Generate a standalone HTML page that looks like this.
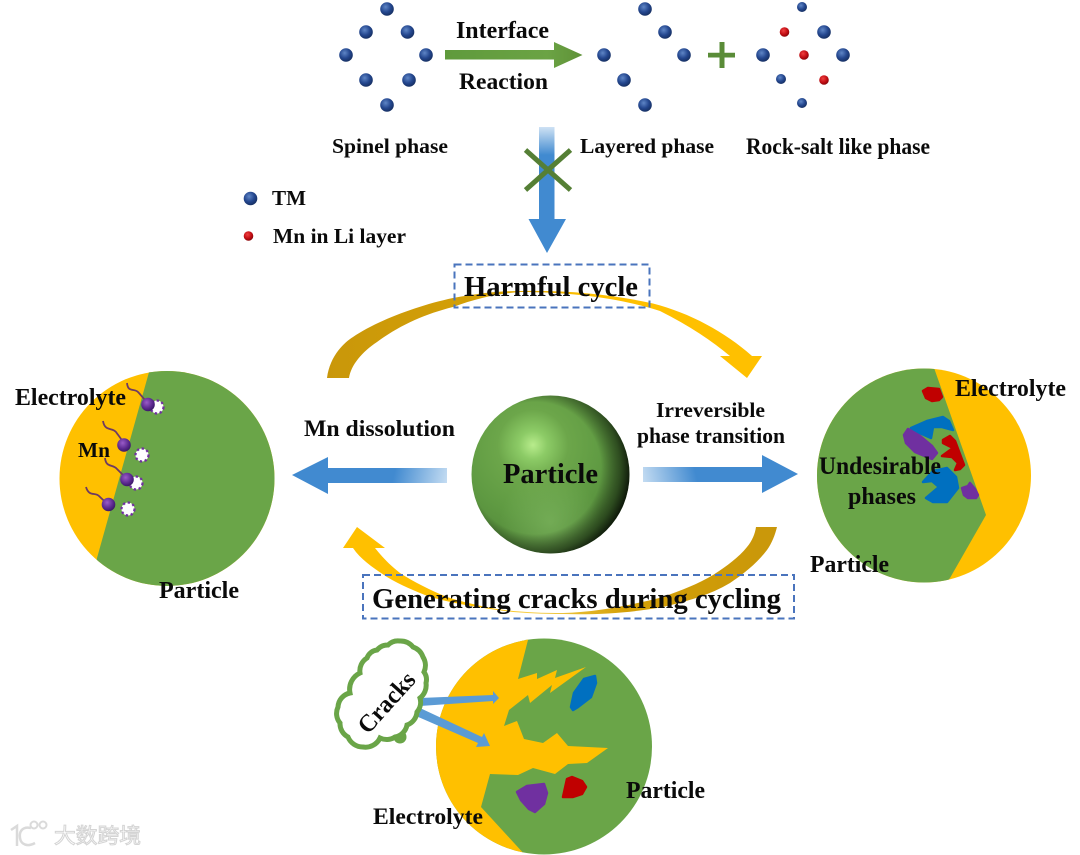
<!DOCTYPE html>
<html lang="en">
<head>
<meta charset="utf-8">
<title>Harmful cycle diagram</title>
<style>
html,body{margin:0;padding:0;background:#fff;}
svg{display:block;filter:blur(0.35px);}
text{font-family:"Liberation Serif","Noto Serif CJK SC",serif;font-weight:bold;fill:#0a0a0a;}
.blob{stroke-width:2.5;stroke-linejoin:round;}
</style>
</head>
<body>
<svg xmlns="http://www.w3.org/2000/svg" width="1080" height="855" viewBox="0 0 1080 855">
<defs>
<radialGradient id="b" cx="0.4" cy="0.35" r="0.7"><stop offset="0" stop-color="#5f86c6"/><stop offset="0.55" stop-color="#24478f"/><stop offset="1" stop-color="#142c5c"/></radialGradient>
<radialGradient id="r" cx="0.4" cy="0.35" r="0.7"><stop offset="0" stop-color="#f04040"/><stop offset="0.6" stop-color="#c00c12"/><stop offset="1" stop-color="#7c0508"/></radialGradient>
<radialGradient id="p" cx="0.4" cy="0.35" r="0.7"><stop offset="0" stop-color="#9a5cc8"/><stop offset="0.6" stop-color="#5c2a90"/><stop offset="1" stop-color="#351560"/></radialGradient>
<radialGradient id="sph" gradientUnits="userSpaceOnUse" cx="533" cy="445" r="118">
<stop offset="0" stop-color="#b8ec8c"/><stop offset="0.12" stop-color="#8ccb66"/><stop offset="0.3" stop-color="#6ca64a"/><stop offset="0.6" stop-color="#5f9a42"/><stop offset="1" stop-color="#4e8236"/>
</radialGradient>
<radialGradient id="sphd" gradientUnits="userSpaceOnUse" cx="535" cy="468" r="100">
<stop offset="0.66" stop-color="#000" stop-opacity="0"/><stop offset="0.85" stop-color="#0c1608" stop-opacity="0.55"/><stop offset="1" stop-color="#000" stop-opacity="1"/>
</radialGradient>
<radialGradient id="sphb" gradientUnits="userSpaceOnUse" cx="550" cy="522" r="50">
<stop offset="0" stop-color="#7cb45e" stop-opacity="0.7"/><stop offset="1" stop-color="#7cb45e" stop-opacity="0"/>
</radialGradient>
<linearGradient id="gar2" gradientUnits="userSpaceOnUse" x1="445" y1="55" x2="582" y2="55"><stop offset="0" stop-color="#5f9a3c"/><stop offset="0.75" stop-color="#6ba344"/><stop offset="1" stop-color="#5f9238"/></linearGradient>
<linearGradient id="bdown" gradientUnits="userSpaceOnUse" x1="547" y1="127" x2="547" y2="155"><stop offset="0" stop-color="#cfe2f4"/><stop offset="1" stop-color="#418ad0"/></linearGradient>
<linearGradient id="bleft" gradientUnits="userSpaceOnUse" x1="395" y1="470" x2="447" y2="482"><stop offset="0" stop-color="#418ad0"/><stop offset="1" stop-color="#c4dcf2"/></linearGradient>
<linearGradient id="bright" gradientUnits="userSpaceOnUse" x1="643" y1="482" x2="695" y2="470"><stop offset="0" stop-color="#c4dcf2"/><stop offset="1" stop-color="#418ad0"/></linearGradient>
<linearGradient id="atop" gradientUnits="userSpaceOnUse" x1="327" y1="330" x2="762" y2="330"><stop offset="0" stop-color="#c9970a"/><stop offset="0.35" stop-color="#d4a006"/><stop offset="0.6" stop-color="#ffc000"/><stop offset="1" stop-color="#ffc000"/></linearGradient>
<linearGradient id="abot" gradientUnits="userSpaceOnUse" x1="777" y1="570" x2="343" y2="570"><stop offset="0" stop-color="#c9970a"/><stop offset="0.35" stop-color="#d4a006"/><stop offset="0.55" stop-color="#f5d050"/><stop offset="0.7" stop-color="#ffc000"/><stop offset="1" stop-color="#ffc000"/></linearGradient>
<clipPath id="c1"><circle cx="167" cy="478.5" r="107.5"/></clipPath>
<clipPath id="c2"><circle cx="924" cy="475.5" r="107"/></clipPath>
<clipPath id="c3"><circle cx="544" cy="746.5" r="108"/></clipPath>
</defs>

<rect width="1080" height="855" fill="#fff"/>

<!-- atoms -->
<g fill="url(#b)">
<circle cx="387" cy="9" r="6.8"/><circle cx="366" cy="32" r="6.8"/><circle cx="407.5" cy="32" r="6.8"/><circle cx="346" cy="55" r="6.8"/><circle cx="426" cy="55" r="6.8"/><circle cx="366" cy="80" r="6.8"/><circle cx="409" cy="80" r="6.8"/><circle cx="387" cy="105" r="6.8"/>
<circle cx="645" cy="9" r="6.8"/><circle cx="665" cy="32" r="6.8"/><circle cx="604" cy="55" r="6.8"/><circle cx="684" cy="55" r="6.8"/><circle cx="624" cy="80" r="6.8"/><circle cx="645" cy="105" r="6.8"/>
<circle cx="802" cy="7" r="5"/><circle cx="824" cy="32" r="6.8"/><circle cx="763" cy="55" r="6.8"/><circle cx="843" cy="55" r="6.8"/><circle cx="781" cy="79" r="5"/><circle cx="802" cy="103" r="5"/>
<circle cx="250.5" cy="198.5" r="6.8"/>
</g>
<g fill="url(#r)">
<circle cx="784.5" cy="32" r="4.8"/><circle cx="804" cy="55" r="4.8"/><circle cx="824" cy="80" r="4.8"/>
<circle cx="248.5" cy="236" r="4.8"/>
</g>

<!-- green arrow and plus -->
<path d="M445,50 H554 V42 L582.5,55 L554,68 V59.5 H445 Z" fill="url(#gar2)"/>
<path d="M708,52.8 H719.5 V42 H724.5 V52.8 H735 V57.5 H724.5 V68 H719.5 V57.5 H708 Z" fill="#5a8c38"/>

<!-- blue down arrow with X -->
<path d="M539,127 H554.5 V219 H566 L547,253 L528.5,219 H539 Z" fill="url(#bdown)"/>
<path d="M525.5,150 L570.5,190 M570.5,150 L525.5,190" stroke="#557f35" stroke-width="5" fill="none"/>

<!-- top text -->
<text x="456" y="38" font-size="24" textLength="93" lengthAdjust="spacingAndGlyphs">Interface</text>
<text x="459" y="89" font-size="23.6" textLength="89" lengthAdjust="spacingAndGlyphs">Reaction</text>
<text x="332" y="153" font-size="21.6" textLength="116" lengthAdjust="spacingAndGlyphs">Spinel phase</text>
<text x="580" y="153" font-size="21.4" textLength="134" lengthAdjust="spacingAndGlyphs">Layered phase</text>
<text x="746" y="154" font-size="22.8" textLength="184" lengthAdjust="spacingAndGlyphs">Rock-salt like phase</text>
<text x="272" y="205" font-size="21" textLength="34" lengthAdjust="spacingAndGlyphs">TM</text>
<text x="273" y="243" font-size="21.5" textLength="133" lengthAdjust="spacingAndGlyphs">Mn in Li layer</text>

<!-- cycle arcs -->
<path d="M327,378 C330,355 345,342 353,337 C375,322 415,306 453,298 C480,293 500,291 520,291 C570,290 615,295 653,303.5 C690,313 725,332 752,356 L762,356 L747,378 L720,356 L730,356 C712,341 690,326 660,311 C620,298 570,292 520,292 C495,294 475,299 453,307 C425,314 400,325 377,342 C362,352 351,365 349,378 Z" fill="url(#atop)"/>
<path d="M777,527 C775,535 772,543 767,550 C757,563 745,573 730,583 C710,595 688,601 663,607 C630,613 595,615 563,614 C540,614 518,613 497,610 C475,607 452,603 430,597 C415,591 400,585 387,577 C375,569 361,560 353,548 L343,548 L357,527 L385,548 L375,548 C382,557 390,565 400,573 C414,582 430,590 447,597 C463,602 480,606 497,609 C518,612 540,613 563,613 C597,612 632,605 663,597 C682,590 698,584 713,575 C727,566 739,557 747,547 C752,541 755,534 756,527 Z" fill="url(#abot)"/>

<rect x="454.5" y="264.5" width="195" height="43" fill="none" stroke="#4a74bd" stroke-width="2" stroke-dasharray="7 4"/>
<rect x="363" y="575" width="431" height="43.5" fill="none" stroke="#4a74bd" stroke-width="2" stroke-dasharray="7 4"/>
<text x="464" y="296" font-size="28.6" textLength="174" lengthAdjust="spacingAndGlyphs">Harmful cycle</text>
<text x="372" y="608" font-size="28.7" textLength="409" lengthAdjust="spacingAndGlyphs">Generating cracks during cycling</text>

<!-- sphere -->
<circle cx="550.5" cy="474.5" r="79" fill="url(#sph)"/>
<circle cx="550.5" cy="474.5" r="79" fill="url(#sphb)"/>
<circle cx="550.5" cy="474.5" r="79" fill="url(#sphd)"/>
<text x="503" y="483" font-size="28.5" textLength="95" lengthAdjust="spacingAndGlyphs">Particle</text>

<!-- horizontal arrows -->
<path d="M292,475 L328,457 V468 H447 V483 H328 V494 Z" fill="url(#bleft)"/>
<path d="M643,467 H762 V455 L798,474 L762,493 V482 H643 Z" fill="url(#bright)"/>
<text x="304" y="436" font-size="23.7" textLength="151" lengthAdjust="spacingAndGlyphs">Mn dissolution</text>
<text x="656" y="417" font-size="21.6" textLength="109" lengthAdjust="spacingAndGlyphs">Irreversible</text>
<text x="637" y="443" font-size="22.2" textLength="148" lengthAdjust="spacingAndGlyphs">phase transition</text>

<!-- left circle -->
<circle cx="167" cy="478.5" r="107.5" fill="#ffc000"/>
<path clip-path="url(#c1)" d="M151,365 L97,558 L90,600 H290 V365 Z" fill="#6aa548"/>
<g fill="#fff" stroke="#7030a0" stroke-width="2.2" stroke-dasharray="2.5 2.5">
<circle cx="157" cy="407" r="6.5"/><circle cx="142" cy="455" r="6.5"/><circle cx="136" cy="483" r="6.5"/><circle cx="128" cy="509" r="6.5"/>
</g>
<g fill="none" stroke="#6e3a62" stroke-width="1.8">
<path d="M127,383 C128,393 134,388 138,392 C141,395 142,397 146,401"/>
<path d="M103,421 C105,432 112,427 116,432 C118,435 120,437 123,442"/>
<path d="M105,458 C106,468 113,464 117,469 C120,472 122,474 125,477"/>
<path d="M86,487 C89,497 95,492 99,496 C102,499 104,501 107,503"/>
</g>
<g fill="url(#p)">
<circle cx="148" cy="404.5" r="6.8"/><circle cx="124" cy="445" r="6.8"/><circle cx="127" cy="479.5" r="6.8"/><circle cx="108.5" cy="504.5" r="6.8"/>
</g>
<text x="15" y="405" font-size="23.8" textLength="111" lengthAdjust="spacingAndGlyphs">Electrolyte</text>
<text x="78" y="457" font-size="21.4" textLength="32" lengthAdjust="spacingAndGlyphs">Mn</text>
<text x="159" y="598" font-size="24" textLength="80" lengthAdjust="spacingAndGlyphs">Particle</text>

<!-- right circle -->
<circle cx="924" cy="475.5" r="107" fill="#ffc000"/>
<path clip-path="url(#c2)" d="M933,365 L986,515 L950,578 L940,590 H810 V365 Z" fill="#6aa548"/>
<polygon class="blob" fill="#c00000" stroke="#c00000" points="923,391 928,388 939,389 942,397 939,400 932,401 926,398"/>
<polygon class="blob" fill="#0070c0" stroke="#0070c0" points="911,428 927,421 943,417 949,421 953,430 942,427 933,427 931,438 915,431"/>
<polygon class="blob" fill="#7030a0" stroke="#7030a0" points="908,429 920,436 932,446 937,453 932,459 915,452 906,443 904,435"/>
<polygon class="blob" fill="#c00000" stroke="#c00000" points="943,440 950,436 955,441 964,465 960,469 955,470 958,463 952,457 942,456 953,448 943,443"/>
<polygon class="blob" fill="#0070c0" stroke="#0070c0" points="923,482 933,471 947,468 956,477 958,488 947,502 933,502 926,498 939,487 932,481"/>
<polygon class="blob" fill="#7030a0" stroke="#7030a0" points="962,488 968,486 970,483 975,489 978,495 976,498 968,498 964,495"/>
<text x="955" y="396" font-size="23.8" textLength="111" lengthAdjust="spacingAndGlyphs">Electrolyte</text>
<text x="819" y="474" font-size="25.5" textLength="122" lengthAdjust="spacingAndGlyphs">Undesirable</text>
<text x="848" y="504" font-size="24" textLength="68" lengthAdjust="spacingAndGlyphs">phases</text>
<text x="810" y="572" font-size="24" textLength="79" lengthAdjust="spacingAndGlyphs">Particle</text>

<!-- bottom circle -->
<circle cx="544" cy="746.5" r="108" fill="#6aa548"/>
<path clip-path="url(#c3)" d="M529,636 L518,679 L537,673 L537,679 L557,670 L555,678 L586,667 L550,693 L552,685 L530,703 L528,695 L509,710 L504,726 L517,721 L524,739 L543,743 L557,733 L568,746 L608,748 L587,763 L568,764 L555,774 L533,768 L518,775 L490,774 L481,807 L526,856 H430 V636 Z" fill="#ffc000"/>
<polygon class="blob" fill="#0070c0" stroke="#0070c0" points="571,707 574,693 584,679 595,676 596,683 591,697 578,707 573,710"/>
<polygon class="blob" fill="#7030a0" stroke="#7030a0" points="517,792 527,786 544,784 547,793 544,804 535,812 529,809 521,800"/>
<polygon class="blob" fill="#c00000" stroke="#c00000" points="563,797 567,779 572,777 582,781 586,787 582,794 573,797"/>
<text x="373" y="824" font-size="23.6" textLength="110" lengthAdjust="spacingAndGlyphs">Electrolyte</text>
<text x="626" y="798" font-size="24" textLength="79" lengthAdjust="spacingAndGlyphs">Particle</text>

<!-- cracks arrows -->
<path d="M420,698 L493,695 L493,691 L499,698 L493,704 L493,701 L420,706 Z" fill="#5b9bd5"/>
<path d="M420,708 L482,737 L484,733 L490,746 L476,747 L478,743 L416,716 Z" fill="#5b9bd5"/>

<!-- cloud -->
<circle cx="400" cy="737" r="6.5" fill="#6aa548"/>
<path d="M377,650 A14,14 0 0 1 388,645 A14,14 0 0 1 400,641 A16,16 0 0 1 413,647 A16,16 0 0 1 423,657 A16,16 0 0 1 424,672 A13,13 0 0 1 426,683 A16,16 0 0 1 420,698 A15,15 0 0 1 417,712 A15,15 0 0 1 407,725 A15,15 0 0 1 395,737 A15,15 0 0 1 380,738 A16,16 0 0 1 363,747 A16,16 0 0 1 348,737 A15,15 0 0 1 340,723 A15,15 0 0 1 338,707 A15,15 0 0 1 350,693 A18,18 0 0 1 360,673 A15,15 0 0 1 367,658 A12,12 0 0 1 377,650 Z" fill="#fff" stroke="#6aa548" stroke-width="5"/>
<text transform="translate(368,735) rotate(-48)" font-size="24.5" textLength="73" lengthAdjust="spacingAndGlyphs">Cracks</text>

<!-- watermark -->
<g fill="none" stroke="#dadada" stroke-width="2.5">
<path d="M11,830 L17,826 V846"/>
<path d="M31,828 C22,826 19,832 20,838 C21,845 28,847 35,843"/>
<circle cx="34" cy="825" r="3.5" stroke-width="2"/><circle cx="43" cy="825" r="3.5" stroke-width="2"/>
</g>
<text x="54" y="843" font-size="21" textLength="87" lengthAdjust="spacingAndGlyphs" style="font-family:'Liberation Sans','Noto Sans CJK SC',sans-serif;font-weight:normal;fill:#fff;stroke:#d4d4d4;stroke-width:1;">大数跨境</text>
</svg>
</body>
</html>
